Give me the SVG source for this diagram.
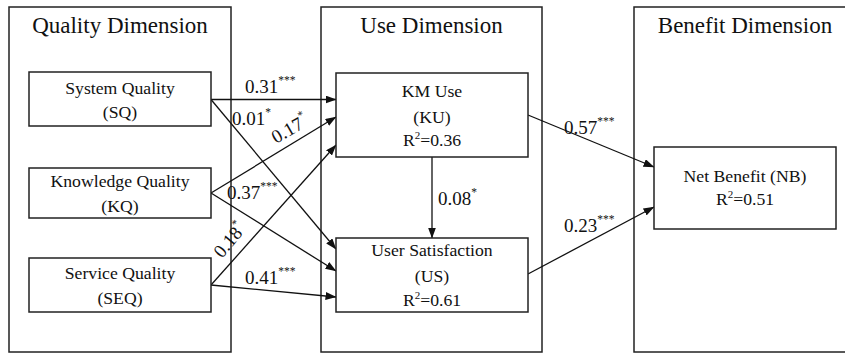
<svg xmlns="http://www.w3.org/2000/svg" width="845" height="354" viewBox="0 0 845 354">
<style>
.dim{fill:#fff;stroke:#222;stroke-width:1.5}
.node{fill:#fff;stroke:#222;stroke-width:1.5}
.t{font-family:"Liberation Serif","Times New Roman",serif;fill:#111}
.title{font-size:23px;text-anchor:middle}
.nt{font-size:17.7px;text-anchor:middle}
.lab{font-size:19px}
.sup{font-size:11.5px}
.conn line{stroke:#111;stroke-width:1.3;marker-end:url(#ah)}
</style>
<defs>
<marker id="ah" markerWidth="11" markerHeight="8" refX="10.5" refY="4" orient="auto" markerUnits="userSpaceOnUse">
<path d="M0,0 L11,4 L0,8 Z" fill="#111"/>
</marker>
</defs>
<rect width="845" height="354" fill="#fff"/>
<g id="quality-dimension">
<rect class="dim" x="9" y="7" width="222" height="345"/>
<text class="t title" x="120" y="33">Quality Dimension</text>
</g>
<g id="use-dimension">
<rect class="dim" x="321" y="7" width="221" height="345"/>
<text class="t title" x="431.5" y="33">Use Dimension</text>
</g>
<g id="benefit-dimension">
<rect class="dim" x="634" y="7" width="230" height="345"/>
<text class="t title" x="745" y="33">Benefit Dimension</text>
</g>
<g class="conn" id="connectors">
<line x1="211" y1="99.5" x2="336" y2="99.5"/>
<line x1="211" y1="99.5" x2="336" y2="249"/>
<line x1="211" y1="193" x2="336" y2="117"/>
<line x1="211" y1="193" x2="336" y2="271"/>
<line x1="211" y1="285" x2="336" y2="145"/>
<line x1="211" y1="285" x2="336" y2="297"/>
<line x1="432" y1="157" x2="432" y2="238"/>
<line x1="528" y1="115" x2="654" y2="167"/>
<line x1="528" y1="274" x2="654" y2="207"/>
</g>
<g id="labels" class="t lab">
<text x="245" y="93">0.31<tspan class="sup" dy="-9">***</tspan></text>
<text x="232" y="125">0.01<tspan class="sup" dy="-9">*</tspan></text>
<text transform="translate(276,144) rotate(-30)">0.17<tspan class="sup" dy="-9">*</tspan></text>
<text x="227" y="199">0.37<tspan class="sup" dy="-9">***</tspan></text>
<text transform="translate(222,259) rotate(-50)">0.18<tspan class="sup" dy="-9">*</tspan></text>
<text x="245" y="284">0.41<tspan class="sup" dy="-9">***</tspan></text>
<text x="438" y="205">0.08<tspan class="sup" dy="-9">*</tspan></text>
<text x="564" y="134">0.57<tspan class="sup" dy="-9">***</tspan></text>
<text x="564" y="232">0.23<tspan class="sup" dy="-9">***</tspan></text>
</g>
<g id="SQ">
<rect class="node" x="29" y="72" width="182" height="54"/>
<text class="t nt" x="120" y="94">System Quality</text>
<text class="t nt" x="120" y="118">(SQ)</text>
</g>
<g id="KQ">
<rect class="node" x="29" y="168" width="182" height="50"/>
<text class="t nt" x="120" y="187">Knowledge Quality</text>
<text class="t nt" x="120" y="212">(KQ)</text>
</g>
<g id="SEQ">
<rect class="node" x="29" y="258" width="182" height="54"/>
<text class="t nt" x="120" y="279">Service Quality</text>
<text class="t nt" x="120" y="304">(SEQ)</text>
</g>
<g id="KU">
<rect class="node" x="336" y="73" width="192" height="84"/>
<text class="t nt" x="432" y="97">KM Use</text>
<text class="t nt" x="432" y="123">(KU)</text>
<text class="t nt" x="432" y="146">R<tspan font-size="11" dy="-7">2</tspan><tspan dy="7">=0.36</tspan></text>
</g>
<g id="US">
<rect class="node" x="336" y="238" width="192" height="74"/>
<text class="t nt" x="432" y="256">User Satisfaction</text>
<text class="t nt" x="432" y="282">(US)</text>
<text class="t nt" x="432" y="306">R<tspan font-size="11" dy="-7">2</tspan><tspan dy="7">=0.61</tspan></text>
</g>
<g id="NB">
<rect class="node" x="654" y="147" width="182" height="82"/>
<text class="t nt" x="745" y="182">Net Benefit (NB)</text>
<text class="t nt" x="745" y="205">R<tspan font-size="11" dy="-7">2</tspan><tspan dy="7">=0.51</tspan></text>
</g>
</svg>
